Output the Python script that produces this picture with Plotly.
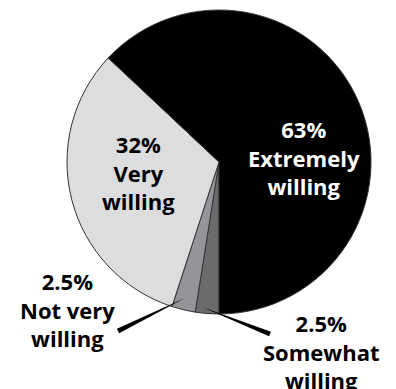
import math
import plotly.graph_objects as go

labels = ["Somewhat willing", "Not very willing", "Very willing", "Extremely willing"]
values = [2.5, 2.5, 32, 63]
pct_text = ["2.5%", "2.5%", "32%", "63%"]
colors = ["#6a6b6d", "#939598", "#dcdddf", "#000000"]

W, H = 396, 389

def px(x):
    return x / W

def py(y):
    return (H - y) / H

fig = go.Figure(go.Pie(
    labels=labels, values=values, sort=False,
    direction="clockwise", rotation=180,
    marker=dict(colors=colors, line=dict(color="#333333", width=1)),
    textinfo="none", hoverinfo="label+percent", showlegend=False,
    domain=dict(x=[px(67), px(371)], y=[py(314), py(10)]),
))

font_family = "Open Sans, Noto Sans, sans-serif"
ann = [
    (pct_text[3], "Extremely<br>willing", 304, 157, "white"),
    (pct_text[2], "Very<br>willing", 138, 172, "black"),
    (pct_text[1], "Not very<br>willing", 67, 309, "black"),
    (pct_text[0], "Somewhat<br>willing", 321, 351, "black"),
]
for pct, lab, x, y, c in ann:
    fig.add_annotation(
        x=px(x), y=py(y), xref="paper", yref="paper", showarrow=False,
        text=f"<b>{pct}</b><br><b>{lab}</b>",
        font=dict(family=font_family, size=22, color=c),
        align="center", xanchor="center", yanchor="middle",
    )

def wedge(x1, y1, x2, y2, w):
    dx, dy = x2 - x1, y2 - y1
    L = math.hypot(dx, dy)
    nx, ny = -dy / L * w / 2, dx / L * w / 2
    return (f"M {px(x1)} {py(y1)} L {px(x2 + nx)} {py(y2 + ny)} "
            f"L {px(x2 - nx)} {py(y2 - ny)} Z")

fig.add_shape(type="path", xref="paper", yref="paper",
              path=wedge(185, 298, 118, 331, 5), fillcolor="black", line=dict(width=0))
fig.add_shape(type="path", xref="paper", yref="paper",
              path=wedge(202, 307, 270, 334, 5), fillcolor="black", line=dict(width=0))

fig.update_layout(width=W, height=H, margin=dict(l=0, r=0, t=0, b=0),
                  paper_bgcolor="white", plot_bgcolor="white")
fig.write_html("out.html")
